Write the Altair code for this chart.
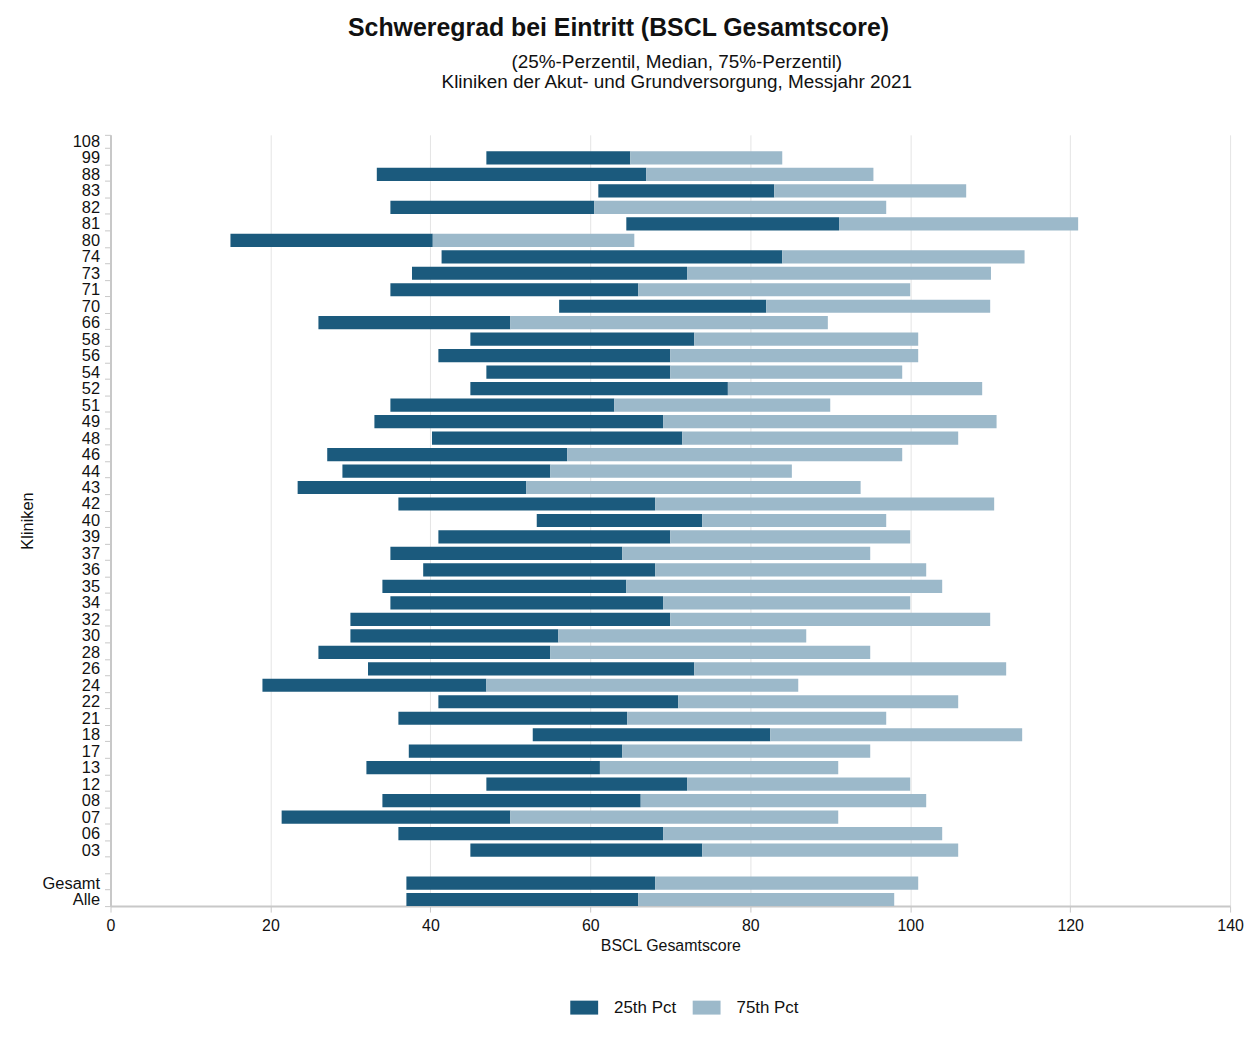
import altair as alt
import pandas as pd

kliniken = ["108", "99", "88", "83", "82", "81", "80", "74", "73", "71", "70", "66",
            "58", "56", "54", "52", "51", "49", "48", "46", "44", "43", "42", "40",
            "39", "37", "36", "35", "34", "32", "30", "28", "26", "24", "22", "21",
            "18", "17", "13", "12", "08", "07", "06", "03", " ", "Gesamt", "Alle"]
p25 = [None, 47.0, 33.3, 61.0, 35.0, 64.5, 15.0, 41.4, 37.7, 35.0, 56.1, 26.0,
       45.0, 41.0, 47.0, 45.0, 35.0, 33.0, 40.2, 27.1, 29.0, 23.4, 36.0, 53.3,
       41.0, 35.0, 39.1, 34.0, 35.0, 30.0, 30.0, 26.0, 32.2, 19.0, 41.0, 36.0,
       52.8, 37.3, 32.0, 47.0, 34.0, 21.4, 36.0, 45.0, None, 37.0, 37.0]
median = [None, 65.0, 67.0, 83.0, 60.5, 91.1, 40.3, 84.0, 72.1, 66.0, 82.0, 50.0,
          73.0, 70.0, 70.0, 77.2, 63.0, 69.1, 71.5, 57.1, 55.0, 52.0, 68.1, 74.0,
          70.0, 64.0, 68.1, 64.5, 69.1, 70.0, 56.0, 55.0, 73.0, 47.0, 71.0, 64.6,
          82.5, 64.0, 61.2, 72.1, 66.3, 50.0, 69.1, 74.0, None, 68.1, 66.0]
p75 = [None, 84.0, 95.4, 107.0, 97.0, 121.0, 65.5, 114.3, 110.1, 100.0, 110.0, 89.7,
       101.0, 101.0, 99.0, 109.0, 90.0, 110.8, 106.0, 99.0, 85.2, 93.8, 110.5, 97.0,
       100.0, 95.0, 102.0, 104.0, 100.0, 110.0, 87.0, 95.0, 112.0, 86.0, 106.0, 97.0,
       114.0, 95.0, 91.0, 100.0, 102.0, 91.0, 104.0, 106.0, None, 101.0, 98.0]
series = ["25th Pct", "75th Pct"]
colors = ["#1B5A7D", "#9CB9CA"]
x_ticks = [0, 20, 40, 60, 80, 100, 120, 140]
title_text = "Schweregrad bei Eintritt (BSCL Gesamtscore)"
subtitle_lines = ["(25%-Perzentil, Median, 75%-Perzentil)",
                  "Kliniken der Akut- und Grundversorgung, Messjahr 2021"]

rows = []
for k, a, m, b in zip(kliniken, p25, median, p75):
    if a is None:
        continue
    rows.append({"Klinik": k, "Serie": series[0], "start": a, "end": m})
    rows.append({"Klinik": k, "Serie": series[1], "start": m, "end": b})
df = pd.DataFrame(rows)

FONT = "Liberation Sans"

bars = alt.Chart(df).mark_bar().encode(
    y=alt.Y("Klinik:N", sort=kliniken,
            scale=alt.Scale(domain=kliniken, paddingInner=0.2, paddingOuter=0),
            axis=alt.Axis(title="Kliniken", labelFontSize=16.5, labelColor="#111111",
                          titleFontSize=16.5, titleFontWeight="normal", titleColor="#111111",
                          titlePadding=7, tickBand="extent", domainColor="#c8c8c8",
                          tickColor="#c8c8c8", domainWidth=2, tickSize=6, labelPadding=5)),
    x=alt.X("start:Q", scale=alt.Scale(domain=[0, 140], nice=False),
            axis=alt.Axis(title="BSCL Gesamtscore", values=x_ticks, labelFontSize=16,
                          labelColor="#111111", titleFontSize=16, titleFontWeight="normal",
                          titleColor="#111111", gridColor="#e4e4e4", domainColor="#c8c8c8",
                          tickColor="#c8c8c8", domainWidth=2, tickSize=6, labelPadding=6,
                          labelFlush=False, titlePadding=4)),
    x2="end:Q",
    color=alt.Color("Serie:N", scale=alt.Scale(domain=series, range=colors),
                    legend=alt.Legend(title=None, orient="none", legendX=462, legendY=863,
                                      direction="horizontal", labelFontSize=17,
                                      labelColor="#111111",
                                      symbolType="M-1,-0.5L1,-0.5L1,0.5L-1,0.5Z",
                                      symbolSize=784, symbolStrokeWidth=0,
                                      labelOffset=16, columnPadding=16)),
)

sub = alt.Chart(pd.DataFrame({"t": ["\n".join(subtitle_lines)]})).mark_text(
    lineBreak="\n", fontSize=19, font=FONT, color="#111111", lineHeight=20,
    baseline="middle", align="center"
).encode(text="t:N", x=alt.value(569), y=alt.value(-73))

chart = alt.layer(bars, sub).properties(
    width=1125, height=775,
    padding={"left": 11, "top": 6, "right": 5, "bottom": 5},
    title=alt.Title(title_text, fontSize=25, font=FONT, fontWeight="bold", color="#111111",
                    anchor="middle", dx=-52, offset=12),
).configure(font=FONT).configure_view(stroke=None)

chart.save("out.html", embed_options={"renderer": "svg", "actions": False})
